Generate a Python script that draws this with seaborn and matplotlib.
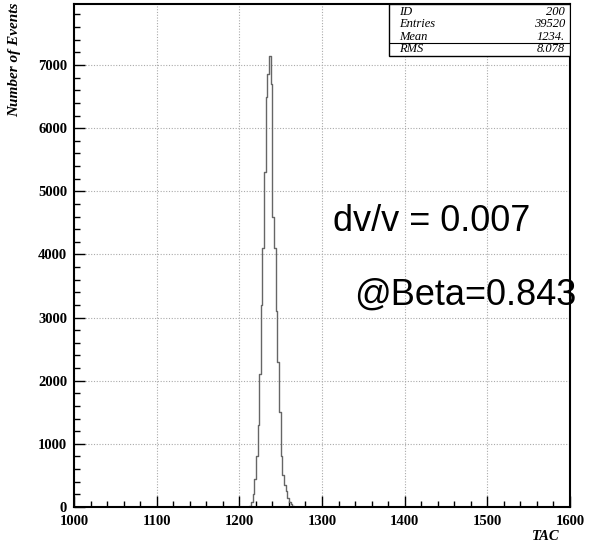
import numpy as np
import pandas as pd
import matplotlib
matplotlib.use("Agg")
import matplotlib.pyplot as plt
import seaborn as sns
from matplotlib.patches import Rectangle
from matplotlib.ticker import MultipleLocator

# TAC histogram, 2-channel bins
bin_edges = list(range(1210, 1270, 2))
bin_counts = [0, 20, 80, 200, 450, 800, 1300, 2100, 3200, 4100, 5300, 6500,
              6850, 7150, 6700, 4600, 4100, 3100, 2300, 1500, 800, 500, 350,
              250, 150, 80, 40, 15, 0]
x_ticks = [1000, 1100, 1200, 1300, 1400, 1500, 1600]
y_ticks = [0, 1000, 2000, 3000, 4000, 5000, 6000, 7000]
stat_names = ["ID", "Entries", "Mean", "RMS"]
stat_values = ["200", "39520", "1234.", "8.078"]


def make_frame():
    centers = [e + 1 for e in bin_edges[:-1]]
    return pd.DataFrame({"tac": centers, "n": bin_counts})


def draw(df):
    sns.set_style("white")
    plt.rcParams["font.family"] = ["Liberation Serif", "DejaVu Serif"]
    plt.rcParams["text.color"] = "black"

    fig = plt.figure(figsize=(5.9, 5.46), dpi=100)
    ax = fig.add_axes([0.1254, 0.0714, 0.8407, 0.9213])

    sns.histplot(data=df, x="tac", weights="n", bins=bin_edges,
                 element="step", fill=False, color="#666666",
                 linewidth=1.0, ax=ax)

    ax.set_xlim(1000, 1600)
    ax.set_ylim(0, 7966)
    ax.set_xticks(x_ticks)
    ax.set_yticks(y_ticks)
    ax.xaxis.set_minor_locator(MultipleLocator(20))
    ax.yaxis.set_minor_locator(MultipleLocator(200))
    ax.tick_params(which="both", direction="in", top=False, right=False,
                   left=True, bottom=True, width=1, color="black",
                   labelcolor="black")
    ax.tick_params(which="major", length=8)
    ax.tick_params(which="minor", length=4)
    ax.tick_params(axis="x", pad=6)
    ax.tick_params(axis="y", pad=5)
    for lab in ax.get_xticklabels() + ax.get_yticklabels():
        lab.set_fontweight("bold")
        lab.set_fontsize(10.5)
    ax.grid(True, which="major", linestyle=(0, (1, 1.5)), color="#aaaaaa",
            linewidth=0.8)
    for s in ax.spines.values():
        s.set_color("black")
        s.set_linewidth(1.5)

    ax.set_xlabel("")
    ax.set_ylabel("")
    fig.text(0.024, 0.995, "Number of Events", rotation=90, ha="center",
             va="top", fontsize=11, fontstyle="italic", fontweight="bold")
    fig.text(0.925, 0.005, "TAC", ha="center", va="bottom", fontsize=10.5,
             fontstyle="italic", fontweight="bold")

    # stats box
    ax.add_patch(Rectangle((0.635, 0.897), 0.365, 0.103, transform=ax.transAxes,
                           facecolor="white", edgecolor="black", linewidth=1,
                           zorder=5))
    ax.plot([0.635, 1.0], [0.922, 0.922], transform=ax.transAxes,
            color="black", linewidth=0.8, zorder=6)
    rows_y = [0.984, 0.960, 0.935, 0.910]
    for name, val, yy in zip(stat_names, stat_values, rows_y):
        ax.text(0.655, yy, name, transform=ax.transAxes, fontsize=9,
                fontstyle="italic", va="center", ha="left", zorder=7)
        ax.text(0.99, yy, val, transform=ax.transAxes, fontsize=9,
                fontstyle="italic", va="center", ha="right", zorder=7)

    fig.text(0.565, 0.594, "dv/v = 0.007", fontsize=26, color="black",
             family=["Liberation Sans", "DejaVu Sans"], va="center", ha="left")
    fig.text(0.6, 0.46, "@Beta=0.843", fontsize=26, color="black",
             family=["Liberation Sans", "DejaVu Sans"], va="center", ha="left")

    fig.savefig("out.png", dpi=100)


def main():
    df = make_frame()
    draw(df)


if __name__ == "__main__":
    main()
